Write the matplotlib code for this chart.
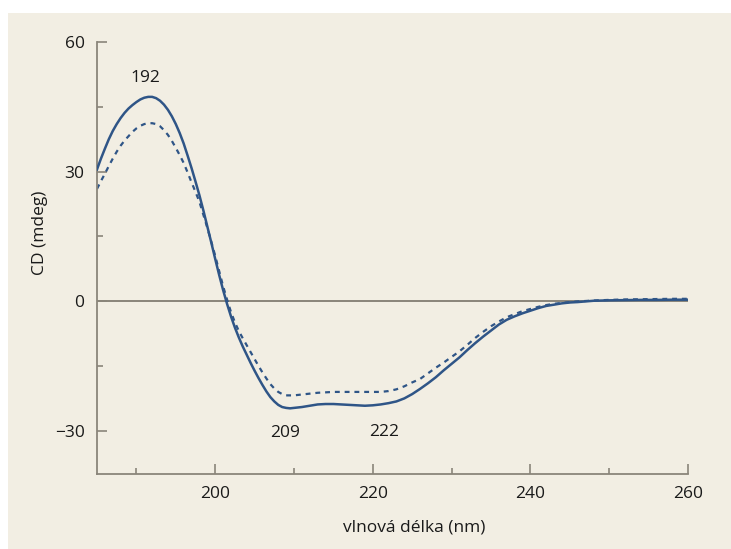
import matplotlib
matplotlib.use("Agg")
import matplotlib.pyplot as plt
from matplotlib.patches import Rectangle
from matplotlib.ticker import MultipleLocator

plt.rcParams['font.family'] = ['Open Sans', 'DejaVu Sans']

# wavelength (nm): 0.5 nm steps over the peak/trough, then coarser
wl = ([185 + 0.5 * i for i in range(51)]
      + list(range(211, 247))
      + [248, 250, 252, 254, 256, 258, 260])

# solid curve (mdeg)
cd_solid = [30.5, 33.0, 35.3, 37.5, 39.4, 41.0, 42.4, 43.6, 44.6, 45.4, 46.1,      # 185-190
            46.7, 47.1, 47.3, 47.3, 47.0, 46.4, 45.5, 44.3, 42.8, 41.0,            # 190.5-195
            38.9, 36.5, 33.7, 30.8, 27.7, 24.5, 21.0, 17.3, 13.6, 9.8,             # 195.5-200
            6.1, 2.6, -0.6, -3.5, -6.1, -8.4, -10.5, -12.4, -14.3, -16.1,          # 200.5-205
            -17.8, -19.4, -20.9, -22.2, -23.2, -24.0, -24.5, -24.7, -24.8, -24.7,  # 205.5-210
            -24.5, -24.2, -23.9, -23.8, -23.8, -23.9, -24.0, -24.1, -24.2, -24.1,  # 211-220
            -23.9, -23.6, -23.2, -22.5, -21.5, -20.3, -19.0, -17.6, -16.0, -14.5,  # 221-230
            -13.0, -11.3, -9.7, -8.2, -6.8, -5.4, -4.3, -3.5, -2.8, -2.2,          # 231-240
            -1.6, -1.1, -0.8, -0.5, -0.3, -0.2,                                    # 241-246
            0.1, 0.2, 0.25, 0.3, 0.3, 0.35, 0.35]                                  # 248-260

# dashed curve (mdeg)
cd_dashed = [26.0, 27.8, 29.5, 31.3, 33.0, 34.6, 36.0, 37.2, 38.2, 39.2, 40.0,
             40.6, 41.0, 41.2, 41.2, 41.0, 40.5, 39.6, 38.5, 37.1, 35.5,
             33.8, 32.0, 29.8, 27.5, 25.3, 23.0, 20.0, 17.0, 13.8, 10.5,
             7.0, 3.5, 0.4, -2.5, -4.9, -6.9, -8.6, -10.2, -11.8, -13.4,
             -15.0, -16.5, -17.9, -19.2, -20.2, -21.0, -21.5, -21.8, -21.8, -21.8,
             -21.6, -21.4, -21.2, -21.1, -21.0, -21.0, -21.0, -21.0, -21.0, -21.0,
             -21.0, -20.8, -20.4, -19.7, -18.8, -18.0, -16.7, -15.4, -14.2, -12.9,
             -11.6, -10.1, -8.5, -7.1, -5.8, -4.7, -3.7, -3.0, -2.3, -1.8,
             -1.3, -0.9, -0.6, -0.4, -0.2, -0.05,
             0.15, 0.3, 0.4, 0.45, 0.5, 0.55, 0.55]

# peak labels
peak_text = ["192", "209", "222"]
peak_pos = [(191.1, 51.6), (208.9, -30.5), (221.5, -30.2)]

line_col = '#2f5587'
grey = '#8a857a'
beige = '#f2eee3'

fig = plt.figure(figsize=(7.31, 5.49), dpi=100, facecolor='white')
fig.patches.append(Rectangle((0.011, 0.0), 0.989, 0.9763, transform=fig.transFigure,
                             facecolor=beige, edgecolor='none', zorder=-10))

ax = fig.add_axes([97/731, 1-474/549, 591/731, 432/549])
ax.set_facecolor('none')

ax.axhline(0, color=grey, lw=1.4, zorder=1)
ax.plot(wl, cd_solid, color=line_col, lw=1.8, solid_joinstyle='round', zorder=3)
ax.plot(wl, cd_dashed, color=line_col, lw=1.6, linestyle=(0, (2.2, 2.2)), zorder=2)

for t, (x, y) in zip(peak_text, peak_pos):
    ax.text(x, y, t, ha='center', va='center', fontsize=12.5, color='#1a1a1a')

ax.set_xlim(185, 260)
ax.set_ylim(-40, 60)
ax.xaxis.set_major_locator(MultipleLocator(20))
ax.xaxis.set_minor_locator(MultipleLocator(10))
ax.set_yticks([-30, 0, 30, 60])
ax.set_yticklabels(['\u221230', '0', '30', '60'])
ax.set_yticks([-15, 15, 45], minor=True)

for s in ['top', 'right']:
    ax.spines[s].set_visible(False)
for s in ['left', 'bottom']:
    ax.spines[s].set_color(grey)
    ax.spines[s].set_linewidth(1.3)
ax.spines['left'].set_bounds(-40, 60)
ax.spines['bottom'].set_bounds(185, 260)

ax.tick_params(which='both', direction='in', color=grey, width=1.2,
               labelsize=12.5, labelcolor='#1a1a1a')
ax.tick_params(which='major', length=7, pad=9)
ax.tick_params(which='minor', length=4.5)

ax.set_xlabel('vlnová délka (nm)', fontsize=12.5, color='#1a1a1a', va='center')
ax.xaxis.set_label_coords(0.536, -0.123)
ax.set_ylabel('CD (mdeg)', fontsize=12.5, color='#1a1a1a', va='center', ha='center')
ax.yaxis.set_label_coords(-0.0964, 0.558)

fig.savefig('out.png', dpi=100, facecolor=fig.get_facecolor())
